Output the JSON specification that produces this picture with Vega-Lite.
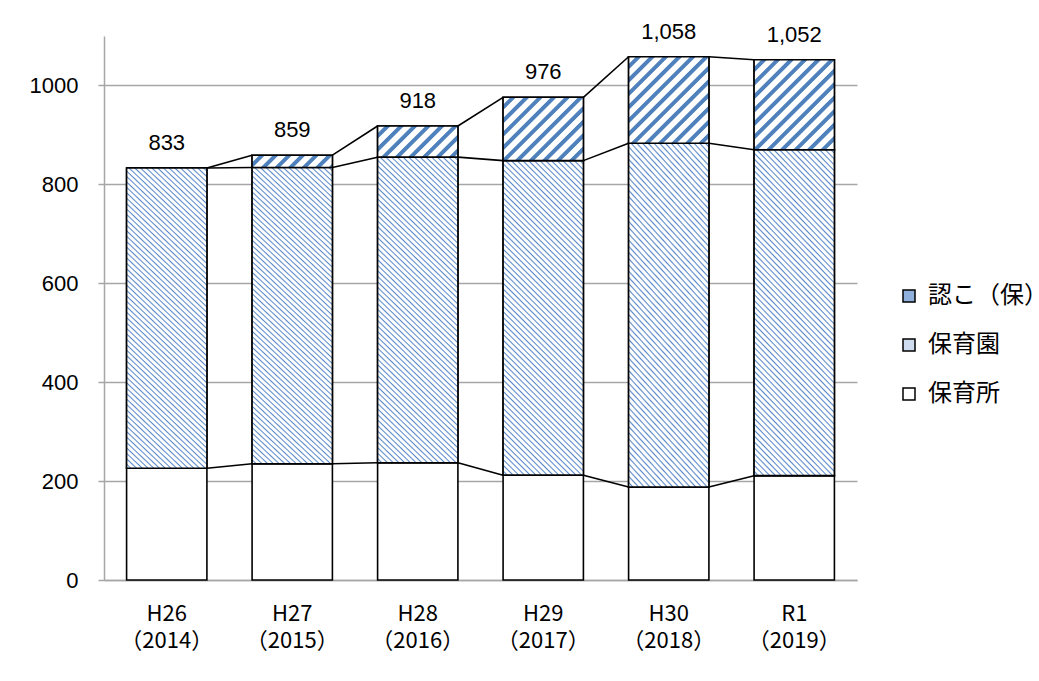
{
  "$schema": "https://vega.github.io/schema/vega-lite/v6.json",
  "width": 753,
  "height": 544,
  "autosize": {"type": "none"},
  "padding": {"left": 104, "top": 36, "right": 182, "bottom": 101},
  "background": "white",
  "config": {"view": {"stroke": null}},
  "data": {
    "values": [
      {"year": "H26|（2014）", "type": "保育所", "value": 226},
      {"year": "H26|（2014）", "type": "保育園", "value": 607},
      {"year": "H26|（2014）", "type": "認こ（保）", "value": 0},
      {"year": "H27|（2015）", "type": "保育所", "value": 235},
      {"year": "H27|（2015）", "type": "保育園", "value": 599},
      {"year": "H27|（2015）", "type": "認こ（保）", "value": 25},
      {"year": "H28|（2016）", "type": "保育所", "value": 237},
      {"year": "H28|（2016）", "type": "保育園", "value": 618},
      {"year": "H28|（2016）", "type": "認こ（保）", "value": 63},
      {"year": "H29|（2017）", "type": "保育所", "value": 212},
      {"year": "H29|（2017）", "type": "保育園", "value": 636},
      {"year": "H29|（2017）", "type": "認こ（保）", "value": 128},
      {"year": "H30|（2018）", "type": "保育所", "value": 188},
      {"year": "H30|（2018）", "type": "保育園", "value": 695},
      {"year": "H30|（2018）", "type": "認こ（保）", "value": 175},
      {"year": "R1|（2019）", "type": "保育所", "value": 211},
      {"year": "R1|（2019）", "type": "保育園", "value": 659},
      {"year": "R1|（2019）", "type": "認こ（保）", "value": 182}
    ]
  },
  "layer": [
    {
      "transform": [
        {"calculate": "indexof(['保育所','保育園','認こ（保）'], datum.type)", "as": "ord"}
      ],
      "mark": {"type": "bar", "stroke": "black", "strokeWidth": 1.6},
      "encoding": {
        "x": {
          "field": "year",
          "type": "nominal",
          "scale": {"paddingInner": 0.36, "paddingOuter": 0.18},
          "axis": {
            "title": null,
            "labelAngle": 0,
            "labelExpr": "split(datum.value, '|')",
            "domainColor": "#a6a6a6",
            "domainWidth": 1.5,
            "ticks": false,
            "labelFont": "Noto Sans CJK JP",
            "labelFontSize": 22,
            "labelColor": "black",
            "labelPadding": 23,
            "labelLineHeight": 27,
            "labelBaseline": "top"
          }
        },
        "y": {
          "field": "value",
          "type": "quantitative",
          "stack": "zero",
          "scale": {"domain": [0, 1100], "nice": false},
          "axis": {
            "title": null,
            "values": [0, 200, 400, 600, 800, 1000],
            "format": "d",
            "grid": true,
            "gridColor": "#a6a6a6",
            "gridWidth": 1.5,
            "domainColor": "#a6a6a6",
            "domainWidth": 1.5,
            "tickColor": "#a6a6a6",
            "tickSize": 6,
            "tickWidth": 1.5,
            "labelFont": "Liberation Sans",
            "labelFontSize": 22,
            "labelColor": "black",
            "labelPadding": 20
          }
        },
        "color": {
          "field": "type",
          "type": "nominal",
          "scale": {
            "domain": ["認こ（保）", "保育園", "保育所"],
            "range": ["#8fb0dc", "#cfdcf0", "#ffffff"]
          },
          "legend": {
            "title": null,
            "orient": "none",
            "legendX": 793,
            "legendY": 248,
            "symbolType": "square",
            "symbolSize": 144,
            "symbolStrokeColor": "black",
            "symbolStrokeWidth": 1.5,
            "labelFont": "Noto Sans CJK JP",
            "labelFontSize": 24,
            "labelColor": "black",
            "labelOffset": 7,
            "labelLimit": 220,
            "rowPadding": 25
          }
        },
        "order": {"field": "ord", "type": "quantitative"}
      }
    },
    {
      "transform": [
        {"calculate": "indexof(['保育所','保育園','認こ（保）'], datum.type)", "as": "ord"},
        {"stack": "value", "groupby": ["year"], "sort": [{"field": "ord"}], "as": ["v0", "v1"]},
        {"filter": "datum.type === '保育園'"}
      ],
      "mark": {
        "type": "bar",
        "stroke": "black",
        "strokeWidth": 1.6,
        "fill": {
          "gradient": "linear", "x1": 0, "y1": 1, "x2": 0.345, "y2": -0.359,
          "stops": [
            {"offset": 0, "color": "#ffffff"}, {"offset": 0.006, "color": "#ffffff"}, {"offset": 0.0095, "color": "#5a89c8"},
            {"offset": 0.0125, "color": "#ffffff"}, {"offset": 0.0185, "color": "#ffffff"}, {"offset": 0.022, "color": "#5a89c8"},
            {"offset": 0.025, "color": "#ffffff"}, {"offset": 0.031, "color": "#ffffff"}, {"offset": 0.0345, "color": "#5a89c8"},
            {"offset": 0.0375, "color": "#ffffff"}, {"offset": 0.0435, "color": "#ffffff"}, {"offset": 0.047, "color": "#5a89c8"},
            {"offset": 0.05, "color": "#ffffff"}, {"offset": 0.056, "color": "#ffffff"}, {"offset": 0.0595, "color": "#5a89c8"},
            {"offset": 0.0625, "color": "#ffffff"}, {"offset": 0.0685, "color": "#ffffff"}, {"offset": 0.072, "color": "#5a89c8"},
            {"offset": 0.075, "color": "#ffffff"}, {"offset": 0.081, "color": "#ffffff"}, {"offset": 0.0845, "color": "#5a89c8"},
            {"offset": 0.0875, "color": "#ffffff"}, {"offset": 0.0935, "color": "#ffffff"}, {"offset": 0.097, "color": "#5a89c8"},
            {"offset": 0.1, "color": "#ffffff"}, {"offset": 0.106, "color": "#ffffff"}, {"offset": 0.1095, "color": "#5a89c8"},
            {"offset": 0.1125, "color": "#ffffff"}, {"offset": 0.1185, "color": "#ffffff"}, {"offset": 0.122, "color": "#5a89c8"},
            {"offset": 0.125, "color": "#ffffff"}, {"offset": 0.131, "color": "#ffffff"}, {"offset": 0.1345, "color": "#5a89c8"},
            {"offset": 0.1375, "color": "#ffffff"}, {"offset": 0.1435, "color": "#ffffff"}, {"offset": 0.147, "color": "#5a89c8"},
            {"offset": 0.15, "color": "#ffffff"}, {"offset": 0.156, "color": "#ffffff"}, {"offset": 0.1595, "color": "#5a89c8"},
            {"offset": 0.1625, "color": "#ffffff"}, {"offset": 0.1685, "color": "#ffffff"}, {"offset": 0.172, "color": "#5a89c8"},
            {"offset": 0.175, "color": "#ffffff"}, {"offset": 0.181, "color": "#ffffff"}, {"offset": 0.1845, "color": "#5a89c8"},
            {"offset": 0.1875, "color": "#ffffff"}, {"offset": 0.1935, "color": "#ffffff"}, {"offset": 0.197, "color": "#5a89c8"},
            {"offset": 0.2, "color": "#ffffff"}, {"offset": 0.206, "color": "#ffffff"}, {"offset": 0.2095, "color": "#5a89c8"},
            {"offset": 0.2125, "color": "#ffffff"}, {"offset": 0.2185, "color": "#ffffff"}, {"offset": 0.222, "color": "#5a89c8"},
            {"offset": 0.225, "color": "#ffffff"}, {"offset": 0.231, "color": "#ffffff"}, {"offset": 0.2345, "color": "#5a89c8"},
            {"offset": 0.2375, "color": "#ffffff"}, {"offset": 0.2435, "color": "#ffffff"}, {"offset": 0.247, "color": "#5a89c8"},
            {"offset": 0.25, "color": "#ffffff"}, {"offset": 0.256, "color": "#ffffff"}, {"offset": 0.2595, "color": "#5a89c8"},
            {"offset": 0.2625, "color": "#ffffff"}, {"offset": 0.2685, "color": "#ffffff"}, {"offset": 0.272, "color": "#5a89c8"},
            {"offset": 0.275, "color": "#ffffff"}, {"offset": 0.281, "color": "#ffffff"}, {"offset": 0.2845, "color": "#5a89c8"},
            {"offset": 0.2875, "color": "#ffffff"}, {"offset": 0.2935, "color": "#ffffff"}, {"offset": 0.297, "color": "#5a89c8"},
            {"offset": 0.3, "color": "#ffffff"}, {"offset": 0.306, "color": "#ffffff"}, {"offset": 0.3095, "color": "#5a89c8"},
            {"offset": 0.3125, "color": "#ffffff"}, {"offset": 0.3185, "color": "#ffffff"}, {"offset": 0.322, "color": "#5a89c8"},
            {"offset": 0.325, "color": "#ffffff"}, {"offset": 0.331, "color": "#ffffff"}, {"offset": 0.3345, "color": "#5a89c8"},
            {"offset": 0.3375, "color": "#ffffff"}, {"offset": 0.3435, "color": "#ffffff"}, {"offset": 0.347, "color": "#5a89c8"},
            {"offset": 0.35, "color": "#ffffff"}, {"offset": 0.356, "color": "#ffffff"}, {"offset": 0.3595, "color": "#5a89c8"},
            {"offset": 0.3625, "color": "#ffffff"}, {"offset": 0.3685, "color": "#ffffff"}, {"offset": 0.372, "color": "#5a89c8"},
            {"offset": 0.375, "color": "#ffffff"}, {"offset": 0.381, "color": "#ffffff"}, {"offset": 0.3845, "color": "#5a89c8"},
            {"offset": 0.3875, "color": "#ffffff"}, {"offset": 0.3935, "color": "#ffffff"}, {"offset": 0.397, "color": "#5a89c8"},
            {"offset": 0.4, "color": "#ffffff"}, {"offset": 0.406, "color": "#ffffff"}, {"offset": 0.4095, "color": "#5a89c8"},
            {"offset": 0.4125, "color": "#ffffff"}, {"offset": 0.4185, "color": "#ffffff"}, {"offset": 0.422, "color": "#5a89c8"},
            {"offset": 0.425, "color": "#ffffff"}, {"offset": 0.431, "color": "#ffffff"}, {"offset": 0.4345, "color": "#5a89c8"},
            {"offset": 0.4375, "color": "#ffffff"}, {"offset": 0.4435, "color": "#ffffff"}, {"offset": 0.447, "color": "#5a89c8"},
            {"offset": 0.45, "color": "#ffffff"}, {"offset": 0.456, "color": "#ffffff"}, {"offset": 0.4595, "color": "#5a89c8"},
            {"offset": 0.4625, "color": "#ffffff"}, {"offset": 0.4685, "color": "#ffffff"}, {"offset": 0.472, "color": "#5a89c8"},
            {"offset": 0.475, "color": "#ffffff"}, {"offset": 0.481, "color": "#ffffff"}, {"offset": 0.4845, "color": "#5a89c8"},
            {"offset": 0.4875, "color": "#ffffff"}, {"offset": 0.4935, "color": "#ffffff"}, {"offset": 0.497, "color": "#5a89c8"},
            {"offset": 0.5, "color": "#ffffff"}, {"offset": 0.506, "color": "#ffffff"}, {"offset": 0.5095, "color": "#5a89c8"},
            {"offset": 0.5125, "color": "#ffffff"}, {"offset": 0.5185, "color": "#ffffff"}, {"offset": 0.522, "color": "#5a89c8"},
            {"offset": 0.525, "color": "#ffffff"}, {"offset": 0.531, "color": "#ffffff"}, {"offset": 0.5345, "color": "#5a89c8"},
            {"offset": 0.5375, "color": "#ffffff"}, {"offset": 0.5435, "color": "#ffffff"}, {"offset": 0.547, "color": "#5a89c8"},
            {"offset": 0.55, "color": "#ffffff"}, {"offset": 0.556, "color": "#ffffff"}, {"offset": 0.5595, "color": "#5a89c8"},
            {"offset": 0.5625, "color": "#ffffff"}, {"offset": 0.5685, "color": "#ffffff"}, {"offset": 0.572, "color": "#5a89c8"},
            {"offset": 0.575, "color": "#ffffff"}, {"offset": 0.581, "color": "#ffffff"}, {"offset": 0.5845, "color": "#5a89c8"},
            {"offset": 0.5875, "color": "#ffffff"}, {"offset": 0.5935, "color": "#ffffff"}, {"offset": 0.597, "color": "#5a89c8"},
            {"offset": 0.6, "color": "#ffffff"}, {"offset": 0.606, "color": "#ffffff"}, {"offset": 0.6095, "color": "#5a89c8"},
            {"offset": 0.6125, "color": "#ffffff"}, {"offset": 0.6185, "color": "#ffffff"}, {"offset": 0.622, "color": "#5a89c8"},
            {"offset": 0.625, "color": "#ffffff"}, {"offset": 0.631, "color": "#ffffff"}, {"offset": 0.6345, "color": "#5a89c8"},
            {"offset": 0.6375, "color": "#ffffff"}, {"offset": 0.6435, "color": "#ffffff"}, {"offset": 0.647, "color": "#5a89c8"},
            {"offset": 0.65, "color": "#ffffff"}, {"offset": 0.656, "color": "#ffffff"}, {"offset": 0.6595, "color": "#5a89c8"},
            {"offset": 0.6625, "color": "#ffffff"}, {"offset": 0.6685, "color": "#ffffff"}, {"offset": 0.672, "color": "#5a89c8"},
            {"offset": 0.675, "color": "#ffffff"}, {"offset": 0.681, "color": "#ffffff"}, {"offset": 0.6845, "color": "#5a89c8"},
            {"offset": 0.6875, "color": "#ffffff"}, {"offset": 0.6935, "color": "#ffffff"}, {"offset": 0.697, "color": "#5a89c8"},
            {"offset": 0.7, "color": "#ffffff"}, {"offset": 0.706, "color": "#ffffff"}, {"offset": 0.7095, "color": "#5a89c8"},
            {"offset": 0.7125, "color": "#ffffff"}, {"offset": 0.7185, "color": "#ffffff"}, {"offset": 0.722, "color": "#5a89c8"},
            {"offset": 0.725, "color": "#ffffff"}, {"offset": 0.731, "color": "#ffffff"}, {"offset": 0.7345, "color": "#5a89c8"},
            {"offset": 0.7375, "color": "#ffffff"}, {"offset": 0.7435, "color": "#ffffff"}, {"offset": 0.747, "color": "#5a89c8"},
            {"offset": 0.75, "color": "#ffffff"}, {"offset": 0.756, "color": "#ffffff"}, {"offset": 0.7595, "color": "#5a89c8"},
            {"offset": 0.7625, "color": "#ffffff"}, {"offset": 0.7685, "color": "#ffffff"}, {"offset": 0.772, "color": "#5a89c8"},
            {"offset": 0.775, "color": "#ffffff"}, {"offset": 0.781, "color": "#ffffff"}, {"offset": 0.7845, "color": "#5a89c8"},
            {"offset": 0.7875, "color": "#ffffff"}, {"offset": 0.7935, "color": "#ffffff"}, {"offset": 0.797, "color": "#5a89c8"},
            {"offset": 0.8, "color": "#ffffff"}, {"offset": 0.806, "color": "#ffffff"}, {"offset": 0.8095, "color": "#5a89c8"},
            {"offset": 0.8125, "color": "#ffffff"}, {"offset": 0.8185, "color": "#ffffff"}, {"offset": 0.822, "color": "#5a89c8"},
            {"offset": 0.825, "color": "#ffffff"}, {"offset": 0.831, "color": "#ffffff"}, {"offset": 0.8345, "color": "#5a89c8"},
            {"offset": 0.8375, "color": "#ffffff"}, {"offset": 0.8435, "color": "#ffffff"}, {"offset": 0.847, "color": "#5a89c8"},
            {"offset": 0.85, "color": "#ffffff"}, {"offset": 0.856, "color": "#ffffff"}, {"offset": 0.8595, "color": "#5a89c8"},
            {"offset": 0.8625, "color": "#ffffff"}, {"offset": 0.8685, "color": "#ffffff"}, {"offset": 0.872, "color": "#5a89c8"},
            {"offset": 0.875, "color": "#ffffff"}, {"offset": 1, "color": "#ffffff"}
          ]
        }
      },
      "encoding": {
        "x": {"field": "year", "type": "nominal"},
        "y": {"field": "v0", "type": "quantitative"},
        "y2": {"field": "v1"}
      }
    },
    {
      "transform": [
        {"calculate": "indexof(['保育所','保育園','認こ（保）'], datum.type)", "as": "ord"},
        {"stack": "value", "groupby": ["year"], "sort": [{"field": "ord"}], "as": ["v0", "v1"]},
        {"filter": "datum.type === '認こ（保）' && datum.value > 0"}
      ],
      "mark": {"type": "bar", "stroke": "black", "strokeWidth": 1.6},
      "encoding": {
        "x": {"field": "year", "type": "nominal"},
        "y": {"field": "v0", "type": "quantitative"},
        "y2": {"field": "v1"},
        "fill": {
          "condition": [
            {"test": "datum.year === 'H27|（2015）'", "value": {"gradient": "linear", "x1": 0, "y1": 0, "x2": 2.637, "y2": 0.409, "stops": [{"offset": 0, "color": "#ffffff"}, {"offset": 0.031, "color": "#ffffff"}, {"offset": 0.0365, "color": "#4f81bd"}, {"offset": 0.057, "color": "#4f81bd"}, {"offset": 0.0625, "color": "#ffffff"}, {"offset": 0.0935, "color": "#ffffff"}, {"offset": 0.099, "color": "#4f81bd"}, {"offset": 0.1195, "color": "#4f81bd"}, {"offset": 0.125, "color": "#ffffff"}, {"offset": 0.156, "color": "#ffffff"}, {"offset": 0.1615, "color": "#4f81bd"}, {"offset": 0.182, "color": "#4f81bd"}, {"offset": 0.1875, "color": "#ffffff"}, {"offset": 0.2185, "color": "#ffffff"}, {"offset": 0.224, "color": "#4f81bd"}, {"offset": 0.2445, "color": "#4f81bd"}, {"offset": 0.25, "color": "#ffffff"}, {"offset": 0.281, "color": "#ffffff"}, {"offset": 0.2865, "color": "#4f81bd"}, {"offset": 0.307, "color": "#4f81bd"}, {"offset": 0.3125, "color": "#ffffff"}, {"offset": 0.3435, "color": "#ffffff"}, {"offset": 0.349, "color": "#4f81bd"}, {"offset": 0.3695, "color": "#4f81bd"}, {"offset": 0.375, "color": "#ffffff"}, {"offset": 0.406, "color": "#ffffff"}, {"offset": 0.4115, "color": "#4f81bd"}, {"offset": 0.432, "color": "#4f81bd"}, {"offset": 0.4375, "color": "#ffffff"}, {"offset": 0.4685, "color": "#ffffff"}, {"offset": 0.474, "color": "#4f81bd"}, {"offset": 0.4945, "color": "#4f81bd"}, {"offset": 0.5, "color": "#ffffff"}, {"offset": 1, "color": "#ffffff"}]}},
            {"test": "datum.year === 'H28|（2016）'", "value": {"gradient": "linear", "x1": 0, "y1": 0, "x2": 2.344, "y2": 0.914, "stops": [{"offset": 0, "color": "#ffffff"}, {"offset": 0.031, "color": "#ffffff"}, {"offset": 0.0365, "color": "#4f81bd"}, {"offset": 0.057, "color": "#4f81bd"}, {"offset": 0.0625, "color": "#ffffff"}, {"offset": 0.0935, "color": "#ffffff"}, {"offset": 0.099, "color": "#4f81bd"}, {"offset": 0.1195, "color": "#4f81bd"}, {"offset": 0.125, "color": "#ffffff"}, {"offset": 0.156, "color": "#ffffff"}, {"offset": 0.1615, "color": "#4f81bd"}, {"offset": 0.182, "color": "#4f81bd"}, {"offset": 0.1875, "color": "#ffffff"}, {"offset": 0.2185, "color": "#ffffff"}, {"offset": 0.224, "color": "#4f81bd"}, {"offset": 0.2445, "color": "#4f81bd"}, {"offset": 0.25, "color": "#ffffff"}, {"offset": 0.281, "color": "#ffffff"}, {"offset": 0.2865, "color": "#4f81bd"}, {"offset": 0.307, "color": "#4f81bd"}, {"offset": 0.3125, "color": "#ffffff"}, {"offset": 0.3435, "color": "#ffffff"}, {"offset": 0.349, "color": "#4f81bd"}, {"offset": 0.3695, "color": "#4f81bd"}, {"offset": 0.375, "color": "#ffffff"}, {"offset": 0.406, "color": "#ffffff"}, {"offset": 0.4115, "color": "#4f81bd"}, {"offset": 0.432, "color": "#4f81bd"}, {"offset": 0.4375, "color": "#ffffff"}, {"offset": 0.4685, "color": "#ffffff"}, {"offset": 0.474, "color": "#4f81bd"}, {"offset": 0.4945, "color": "#4f81bd"}, {"offset": 0.5, "color": "#ffffff"}, {"offset": 0.531, "color": "#ffffff"}, {"offset": 0.5365, "color": "#4f81bd"}, {"offset": 0.557, "color": "#4f81bd"}, {"offset": 0.5625, "color": "#ffffff"}, {"offset": 1, "color": "#ffffff"}]}},
            {"test": "datum.year === 'H29|（2017）'", "value": {"gradient": "linear", "x1": 0, "y1": 0, "x2": 1.659, "y2": 1.314, "stops": [{"offset": 0, "color": "#ffffff"}, {"offset": 0.031, "color": "#ffffff"}, {"offset": 0.0365, "color": "#4f81bd"}, {"offset": 0.057, "color": "#4f81bd"}, {"offset": 0.0625, "color": "#ffffff"}, {"offset": 0.0935, "color": "#ffffff"}, {"offset": 0.099, "color": "#4f81bd"}, {"offset": 0.1195, "color": "#4f81bd"}, {"offset": 0.125, "color": "#ffffff"}, {"offset": 0.156, "color": "#ffffff"}, {"offset": 0.1615, "color": "#4f81bd"}, {"offset": 0.182, "color": "#4f81bd"}, {"offset": 0.1875, "color": "#ffffff"}, {"offset": 0.2185, "color": "#ffffff"}, {"offset": 0.224, "color": "#4f81bd"}, {"offset": 0.2445, "color": "#4f81bd"}, {"offset": 0.25, "color": "#ffffff"}, {"offset": 0.281, "color": "#ffffff"}, {"offset": 0.2865, "color": "#4f81bd"}, {"offset": 0.307, "color": "#4f81bd"}, {"offset": 0.3125, "color": "#ffffff"}, {"offset": 0.3435, "color": "#ffffff"}, {"offset": 0.349, "color": "#4f81bd"}, {"offset": 0.3695, "color": "#4f81bd"}, {"offset": 0.375, "color": "#ffffff"}, {"offset": 0.406, "color": "#ffffff"}, {"offset": 0.4115, "color": "#4f81bd"}, {"offset": 0.432, "color": "#4f81bd"}, {"offset": 0.4375, "color": "#ffffff"}, {"offset": 0.4685, "color": "#ffffff"}, {"offset": 0.474, "color": "#4f81bd"}, {"offset": 0.4945, "color": "#4f81bd"}, {"offset": 0.5, "color": "#ffffff"}, {"offset": 0.531, "color": "#ffffff"}, {"offset": 0.5365, "color": "#4f81bd"}, {"offset": 0.557, "color": "#4f81bd"}, {"offset": 0.5625, "color": "#ffffff"}, {"offset": 0.5935, "color": "#ffffff"}, {"offset": 0.599, "color": "#4f81bd"}, {"offset": 0.6195, "color": "#4f81bd"}, {"offset": 0.625, "color": "#ffffff"}, {"offset": 0.656, "color": "#ffffff"}, {"offset": 0.6615, "color": "#4f81bd"}, {"offset": 0.682, "color": "#4f81bd"}, {"offset": 0.6875, "color": "#ffffff"}, {"offset": 1, "color": "#ffffff"}]}},
            {"test": "datum.year === 'H30|（2018）'", "value": {"gradient": "linear", "x1": 0, "y1": 0, "x2": 1.243, "y2": 1.346, "stops": [{"offset": 0, "color": "#ffffff"}, {"offset": 0.031, "color": "#ffffff"}, {"offset": 0.0365, "color": "#4f81bd"}, {"offset": 0.057, "color": "#4f81bd"}, {"offset": 0.0625, "color": "#ffffff"}, {"offset": 0.0935, "color": "#ffffff"}, {"offset": 0.099, "color": "#4f81bd"}, {"offset": 0.1195, "color": "#4f81bd"}, {"offset": 0.125, "color": "#ffffff"}, {"offset": 0.156, "color": "#ffffff"}, {"offset": 0.1615, "color": "#4f81bd"}, {"offset": 0.182, "color": "#4f81bd"}, {"offset": 0.1875, "color": "#ffffff"}, {"offset": 0.2185, "color": "#ffffff"}, {"offset": 0.224, "color": "#4f81bd"}, {"offset": 0.2445, "color": "#4f81bd"}, {"offset": 0.25, "color": "#ffffff"}, {"offset": 0.281, "color": "#ffffff"}, {"offset": 0.2865, "color": "#4f81bd"}, {"offset": 0.307, "color": "#4f81bd"}, {"offset": 0.3125, "color": "#ffffff"}, {"offset": 0.3435, "color": "#ffffff"}, {"offset": 0.349, "color": "#4f81bd"}, {"offset": 0.3695, "color": "#4f81bd"}, {"offset": 0.375, "color": "#ffffff"}, {"offset": 0.406, "color": "#ffffff"}, {"offset": 0.4115, "color": "#4f81bd"}, {"offset": 0.432, "color": "#4f81bd"}, {"offset": 0.4375, "color": "#ffffff"}, {"offset": 0.4685, "color": "#ffffff"}, {"offset": 0.474, "color": "#4f81bd"}, {"offset": 0.4945, "color": "#4f81bd"}, {"offset": 0.5, "color": "#ffffff"}, {"offset": 0.531, "color": "#ffffff"}, {"offset": 0.5365, "color": "#4f81bd"}, {"offset": 0.557, "color": "#4f81bd"}, {"offset": 0.5625, "color": "#ffffff"}, {"offset": 0.5935, "color": "#ffffff"}, {"offset": 0.599, "color": "#4f81bd"}, {"offset": 0.6195, "color": "#4f81bd"}, {"offset": 0.625, "color": "#ffffff"}, {"offset": 0.656, "color": "#ffffff"}, {"offset": 0.6615, "color": "#4f81bd"}, {"offset": 0.682, "color": "#4f81bd"}, {"offset": 0.6875, "color": "#ffffff"}, {"offset": 0.7185, "color": "#ffffff"}, {"offset": 0.724, "color": "#4f81bd"}, {"offset": 0.7445, "color": "#4f81bd"}, {"offset": 0.75, "color": "#ffffff"}, {"offset": 0.781, "color": "#ffffff"}, {"offset": 0.7865, "color": "#4f81bd"}, {"offset": 0.807, "color": "#4f81bd"}, {"offset": 0.8125, "color": "#ffffff"}, {"offset": 1, "color": "#ffffff"}]}},
            {"test": "datum.year === 'R1|（2019）'", "value": {"gradient": "linear", "x1": 0, "y1": 0, "x2": 1.19, "y2": 1.341, "stops": [{"offset": 0, "color": "#ffffff"}, {"offset": 0.031, "color": "#ffffff"}, {"offset": 0.0365, "color": "#4f81bd"}, {"offset": 0.057, "color": "#4f81bd"}, {"offset": 0.0625, "color": "#ffffff"}, {"offset": 0.0935, "color": "#ffffff"}, {"offset": 0.099, "color": "#4f81bd"}, {"offset": 0.1195, "color": "#4f81bd"}, {"offset": 0.125, "color": "#ffffff"}, {"offset": 0.156, "color": "#ffffff"}, {"offset": 0.1615, "color": "#4f81bd"}, {"offset": 0.182, "color": "#4f81bd"}, {"offset": 0.1875, "color": "#ffffff"}, {"offset": 0.2185, "color": "#ffffff"}, {"offset": 0.224, "color": "#4f81bd"}, {"offset": 0.2445, "color": "#4f81bd"}, {"offset": 0.25, "color": "#ffffff"}, {"offset": 0.281, "color": "#ffffff"}, {"offset": 0.2865, "color": "#4f81bd"}, {"offset": 0.307, "color": "#4f81bd"}, {"offset": 0.3125, "color": "#ffffff"}, {"offset": 0.3435, "color": "#ffffff"}, {"offset": 0.349, "color": "#4f81bd"}, {"offset": 0.3695, "color": "#4f81bd"}, {"offset": 0.375, "color": "#ffffff"}, {"offset": 0.406, "color": "#ffffff"}, {"offset": 0.4115, "color": "#4f81bd"}, {"offset": 0.432, "color": "#4f81bd"}, {"offset": 0.4375, "color": "#ffffff"}, {"offset": 0.4685, "color": "#ffffff"}, {"offset": 0.474, "color": "#4f81bd"}, {"offset": 0.4945, "color": "#4f81bd"}, {"offset": 0.5, "color": "#ffffff"}, {"offset": 0.531, "color": "#ffffff"}, {"offset": 0.5365, "color": "#4f81bd"}, {"offset": 0.557, "color": "#4f81bd"}, {"offset": 0.5625, "color": "#ffffff"}, {"offset": 0.5935, "color": "#ffffff"}, {"offset": 0.599, "color": "#4f81bd"}, {"offset": 0.6195, "color": "#4f81bd"}, {"offset": 0.625, "color": "#ffffff"}, {"offset": 0.656, "color": "#ffffff"}, {"offset": 0.6615, "color": "#4f81bd"}, {"offset": 0.682, "color": "#4f81bd"}, {"offset": 0.6875, "color": "#ffffff"}, {"offset": 0.7185, "color": "#ffffff"}, {"offset": 0.724, "color": "#4f81bd"}, {"offset": 0.7445, "color": "#4f81bd"}, {"offset": 0.75, "color": "#ffffff"}, {"offset": 0.781, "color": "#ffffff"}, {"offset": 0.7865, "color": "#4f81bd"}, {"offset": 0.807, "color": "#4f81bd"}, {"offset": 0.8125, "color": "#ffffff"}, {"offset": 1, "color": "#ffffff"}]}}
          ],
          "value": "#a6c0e2"
        }
      }
    },
    {
      "transform": [
        {"calculate": "indexof(['保育所','保育園','認こ（保）'], datum.type)", "as": "ord"},
        {"stack": "value", "groupby": ["year"], "sort": [{"field": "ord"}], "as": ["v0", "v1"]},
        {
          "window": [
            {"op": "lead", "field": "v1", "as": "nv1"},
            {"op": "lead", "field": "year", "as": "nyear"}
          ],
          "groupby": ["type"],
          "sort": [{"field": "year"}]
        },
        {"filter": "datum.nyear != null"}
      ],
      "mark": {"type": "rule", "color": "black", "strokeWidth": 1.6},
      "encoding": {
        "x": {"field": "year", "type": "nominal", "bandPosition": 1},
        "x2": {"field": "nyear", "bandPosition": 0},
        "y": {"field": "v1", "type": "quantitative"},
        "y2": {"field": "nv1"}
      }
    },
    {
      "transform": [
        {"aggregate": [{"op": "sum", "field": "value", "as": "total"}], "groupby": ["year"]}
      ],
      "mark": {"type": "text", "dy": -18, "baseline": "alphabetic", "font": "Liberation Sans", "fontSize": 22, "color": "black"},
      "encoding": {
        "x": {"field": "year", "type": "nominal"},
        "y": {"field": "total", "type": "quantitative"},
        "text": {"field": "total", "type": "quantitative", "format": ","}
      }
    }
  ]
}
